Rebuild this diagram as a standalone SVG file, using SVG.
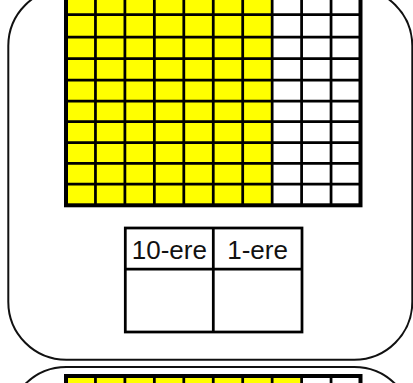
<svg xmlns="http://www.w3.org/2000/svg" width="413" height="383" viewBox="0 0 413 383">
<style>
.panel{fill:#ffffff;stroke:#111111;stroke-width:2}
.yel{fill:#ffff00}
.wht{fill:#ffffff}
.ln{stroke:#000000;stroke-width:2.75;fill:none}
.bd{stroke:#000000;stroke-width:4;fill:none}
.tb{stroke:#000000;stroke-width:2.75;fill:#ffffff}
.lbl{font-family:"Liberation Sans",Arial,sans-serif;font-size:26px;fill:#111111;text-anchor:middle}
</style>
<rect width="413" height="383" fill="#ffffff"/>
<g id="panel1">
<rect class="panel" x="8.3" y="-12" width="404" height="371.7" rx="58" ry="58"/>
</g>
<g id="grid1">
<rect class="yel" x="66" y="-6.5" width="206.15" height="211.8"/>
<rect class="wht" x="272.15" y="-6.5" width="88.35" height="211.8"/>
<path class="ln" d="M95.45 -7V205 M124.9 -7V205 M154.35 -7V205 M183.8 -7V205 M213.25 -7V205 M242.7 -7V205 M272.15 -7V205 M301.6 -7V205 M331.05 -7V205"/>
<path class="ln" d="M66 14.7H360.5 M66 37H360.5 M66 58.5H360.5 M66 80H360.5 M66 101H360.5 M66 121.7H360.5 M66 142.5H360.5 M66 163.3H360.5 M66 184H360.5"/>
<rect class="bd" x="66" y="-6.5" width="294.5" height="211.8"/>
</g>
<g id="table">
<rect class="tb" x="125.3" y="228" width="176.7" height="104"/>
<path class="ln" d="M213.3 228V332 M125.3 269H302"/>
<text class="lbl" x="169.3" y="259">10-ere</text>
<text class="lbl" x="257.6" y="259">1-ere</text>
</g>
<g id="panel2">
<rect class="panel" x="8.3" y="367" width="404" height="400" rx="58" ry="58"/>
</g>
<g id="grid2">
<rect class="yel" x="66" y="376" width="235.6" height="30"/>
<rect class="wht" x="301.6" y="376" width="58.9" height="30"/>
<path class="ln" d="M95.45 376V400 M124.9 376V400 M154.35 376V400 M183.8 376V400 M213.25 376V400 M242.7 376V400 M272.15 376V400 M301.6 376V400 M331.05 376V400"/>
<rect class="bd" x="66" y="376" width="294.5" height="30"/>
</g>
<g id="connectors"/>
</svg>
